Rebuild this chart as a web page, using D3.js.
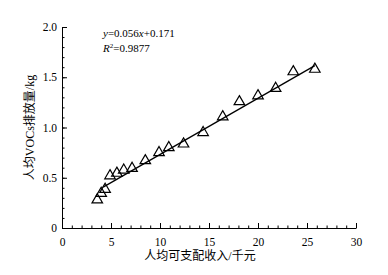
<!DOCTYPE html>
<html>
<head>
<meta charset="utf-8">
<script src="https://cdn.jsdelivr.net/npm/d3@7"></script>
<style>
  body { margin: 0; background: #fff; }
  svg text { fill: #000; }
</style>
</head>
<body>
<div id="chart"></div>
<script>
// data
var incomeX = [3.6, 4.0, 4.4, 4.9, 5.6, 6.3, 7.15, 8.5, 9.9, 10.9, 12.4, 14.4, 16.4, 18.1, 20.0, 21.8, 23.6, 25.8];
var vocY = [0.28, 0.345, 0.385, 0.52, 0.545, 0.577, 0.594, 0.67, 0.75, 0.80, 0.836, 0.95, 1.107, 1.257, 1.316, 1.39, 1.555, 1.58];
var fitRange = [4.2, 25.8];
var fitSlope = 0.056, fitIntercept = 0.171;
var xTicks = [0, 5, 10, 15, 20, 25, 30];
var yTicks = [0, 0.5, 1.0, 1.5, 2.0];

var margin = { top: 27, right: 32, bottom: 47, left: 62 };
var width = 388 - margin.left - margin.right;
var height = 275 - margin.top - margin.bottom;

var serif = "'Liberation Serif', 'Times New Roman', serif";
var cjk = "'Liberation Serif', 'Noto Sans CJK SC', serif";

var svg = d3.select("#chart").append("svg")
    .attr("width", 388)
    .attr("height", 275)
    .append("g")
    .attr("transform", "translate(" + margin.left + "," + margin.top + ")");

var x = d3.scaleLinear().domain([0, 30]).range([0, width]);
var y = d3.scaleLinear().domain([0, 2]).range([height, 0]);

// minor ticks first
svg.append("g")
    .attr("transform", "translate(0," + height + ")")
    .call(d3.axisBottom(x).tickValues(d3.range(0, 31, 1)).tickSize(-2.5).tickFormat(""))
    .call(g => g.select(".domain").remove());
svg.append("g")
    .call(d3.axisLeft(y).tickValues(d3.range(0, 2.01, 0.1)).tickSize(-2.5).tickFormat(""))
    .call(g => g.select(".domain").remove());

var xAxis = svg.append("g")
    .attr("transform", "translate(0," + height + ")")
    .call(d3.axisBottom(x).tickValues(xTicks).tickSize(-5).tickSizeOuter(0).tickPadding(10));
xAxis.selectAll("text").style("font-family", serif).style("font-size", "11.5px");

var yAxis = svg.append("g")
    .call(d3.axisLeft(y).tickValues(yTicks).tickSize(-5).tickSizeOuter(0).tickPadding(3)
        .tickFormat(d => d === 0 ? "0" : d3.format(".1f")(d)));
yAxis.selectAll("text").style("font-family", serif).style("font-size", "11.5px").attr("dx", "-2");

svg.selectAll(".domain, .tick line").attr("stroke", "#000").attr("stroke-width", 1);

// fit line
svg.append("line")
    .attr("x1", x(fitRange[0])).attr("y1", y(fitSlope * fitRange[0] + fitIntercept))
    .attr("x2", x(fitRange[1])).attr("y2", y(fitSlope * fitRange[1] + fitIntercept))
    .attr("stroke", "#000").attr("stroke-width", 1.3);

// points
svg.selectAll(".pt")
    .data(incomeX)
    .enter().append("path")
    .attr("class", "pt")
    .attr("transform", (d, i) => "translate(" + x(d) + "," + y(vocY[i]) + ")")
    .attr("d", d3.symbol().type(d3.symbolTriangle).size(48))
    .attr("fill", "none")
    .attr("stroke", "#000")
    .attr("stroke-width", 1.2);

// equation
var eq = svg.append("text")
    .attr("x", 41).attr("y", 10)
    .style("font-family", serif).style("font-size", "11px");
eq.append("tspan").style("font-style", "italic").text("y");
eq.append("tspan").text("=0.056");
eq.append("tspan").style("font-style", "italic").text("x");
eq.append("tspan").text("+0.171");

var r2 = svg.append("text")
    .attr("x", 41).attr("y", 25)
    .style("font-family", serif).style("font-size", "11px");
r2.append("tspan").style("font-style", "italic").text("R");
r2.append("tspan").attr("dy", -4).style("font-size", "7px").text("2");
r2.append("tspan").attr("dy", 4).text("=0.9877");

// axis titles
svg.append("text")
    .attr("x", width / 2 - 9).attr("y", height + 32)
    .attr("text-anchor", "middle")
    .style("font-family", cjk).style("font-size", "12px")
    .text("人均可支配收入/千元");

svg.append("text")
    .attr("transform", "translate(-28," + (height / 2) + ") rotate(-90)")
    .attr("text-anchor", "middle")
    .style("font-family", cjk).style("font-size", "12px")
    .text("人均VOCs排放量/kg");
</script>
</body>
</html>
